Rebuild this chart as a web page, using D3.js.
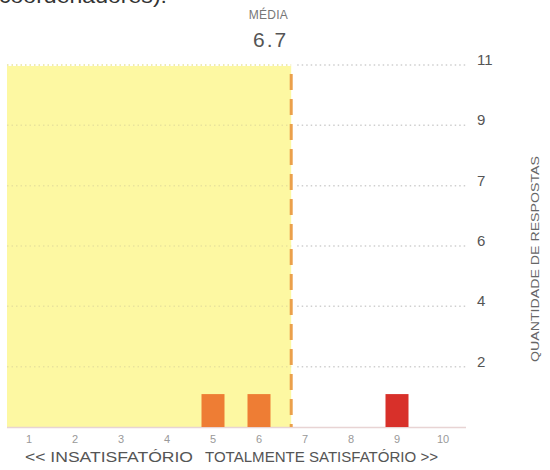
<!DOCTYPE html>
<html>
<head>
<meta charset="utf-8">
<script src="https://cdn.jsdelivr.net/npm/d3@7"></script>
<style>
  html, body { margin: 0; padding: 0; background: #fff; }
  svg { display: block; }
  text { font-family: "Liberation Sans", Arial, sans-serif; }
</style>
</head>
<body>
<svg id="chart" width="550" height="470"></svg>
<script>
// ---- data ----
const categories = ["1","2","3","4","5","6","7","8","9","10"];
const counts = [0, 0, 0, 0, 1, 1, 0, 0, 1, 0];
const barColors = ["#f08a3a","#f08a3a","#f08a3a","#f08a3a","#ee7d34","#ee7d34","#e55a2e","#e55a2e","#d8302a","#d8302a"];
const meanValue = 6.7;
const meanLabel = "6.7";
const meanTitle = "MÉDIA";
const yMax = 11;
const yTickLabels = ["2", "4", "6", "7", "9", "11"];
const yTitle = "QUANTIDADE DE RESPOSTAS";
const leftCaption = "<< INSATISFATÓRIO";
const rightCaption = "TOTALMENTE SATISFATÓRIO >>";
const topCutText = "coordenadores).";

// ---- layout ----
const svg = d3.select("#chart");
const plotLeft = 6, plotRight = 466, plotTop = 65, plotBottom = 427;

const x = d3.scaleBand().domain(categories).range([plotLeft, plotRight]).paddingInner(0.5).paddingOuter(0.25);
const xMean = d3.scaleLinear().domain([0.5, 10.5]).range([plotLeft, plotRight]);
const y = d3.scaleLinear().domain([0, yMax]).range([plotBottom, plotTop]);
const yTickValues = yTickLabels.map((d, i) => yMax * (i + 1) / yTickLabels.length);

// cut-off text at the top (as in the reference crop)
svg.append("text").attr("x", -1).attr("y", 3).attr("font-size", 20).attr("fill", "#333")
  .attr("textLength", 168).attr("lengthAdjust", "spacingAndGlyphs").text(topCutText);

const mx = xMean(meanValue);

// yellow "below mean" area
svg.append("rect")
  .attr("x", plotLeft + 1).attr("y", y(yMax) + 1)
  .attr("width", mx - plotLeft - 1).attr("height", y(0) - y(yMax) - 1)
  .attr("fill", "#fdf8a2");

// gridlines: faint inside the yellow area, grey dotted outside
const grid = svg.append("g");
grid.selectAll("line.in").data(yTickValues).join("line").attr("class", "in")
  .attr("x1", plotLeft + 1).attr("x2", mx)
  .attr("y1", d => y(d)).attr("y2", d => y(d))
  .attr("stroke", "#e9e39c").attr("stroke-width", 1.5)
  .attr("stroke-dasharray", "1.5,3");
grid.selectAll("line.out").data(yTickValues).join("line").attr("class", "out")
  .attr("x1", mx + 6).attr("x2", plotRight)
  .attr("y1", d => y(d)).attr("y2", d => y(d))
  .attr("stroke", "#cfcfcf").attr("stroke-width", 1.5)
  .attr("stroke-dasharray", "1.5,3");

// y tick labels (right side)
svg.append("g").selectAll("text").data(yTickValues).join("text")
  .attr("x", 477).attr("y", d => y(d))
  .attr("font-size", 15).attr("fill", "#555")
  .text((d, i) => yTickLabels[i]);

// y title
svg.append("text")
  .attr("transform", `translate(539,${(plotTop + plotBottom) / 2 + 13}) rotate(-90)`)
  .attr("text-anchor", "middle").attr("font-size", 11).attr("fill", "#666")
  .attr("textLength", 206).attr("lengthAdjust", "spacingAndGlyphs")
  .text(yTitle);

// baseline
svg.append("line").attr("x1", plotLeft + 1).attr("x2", plotRight)
  .attr("y1", y(0) + 0.5).attr("y2", y(0) + 0.5)
  .attr("stroke", "#e8d4d4").attr("stroke-width", 1.5);

// bars
svg.append("g").selectAll("rect").data(categories).join("rect")
  .attr("x", d => x(d)).attr("width", x.bandwidth())
  .attr("y", (d, i) => y(counts[i])).attr("height", (d, i) => y(0) - y(counts[i]))
  .attr("fill", (d, i) => barColors[i]);

// mean line
svg.append("line").attr("x1", mx).attr("x2", mx)
  .attr("y1", y(yMax) + 9).attr("y2", y(0))
  .attr("stroke", "#eba04b").attr("stroke-width", 3)
  .attr("stroke-dasharray", "16,9");

// mean labels
svg.append("text").attr("x", mx - 3).attr("y", 19).attr("text-anchor", "end")
  .attr("font-size", 12).attr("fill", "#777").attr("letter-spacing", 0.3).text(meanTitle);
svg.append("text").attr("x", mx - 3).attr("y", 47).attr("text-anchor", "end")
  .attr("font-size", 21).attr("fill", "#555").attr("letter-spacing", 2).text(meanLabel);

// x tick labels
svg.append("g").selectAll("text").data(categories).join("text")
  .attr("x", d => x(d) + x.bandwidth() / 2).attr("y", 443)
  .attr("text-anchor", "middle").attr("font-size", 11).attr("fill", "#999")
  .text(d => d);

// captions
svg.append("text").attr("x", 25).attr("y", 462).attr("font-size", 14.5).attr("fill", "#555")
  .attr("textLength", 168).attr("lengthAdjust", "spacingAndGlyphs").text(leftCaption);
svg.append("text").attr("x", 205).attr("y", 462).attr("font-size", 14.5).attr("fill", "#555")
  .attr("textLength", 233).attr("lengthAdjust", "spacingAndGlyphs").text(rightCaption);
</script>
</body>
</html>
